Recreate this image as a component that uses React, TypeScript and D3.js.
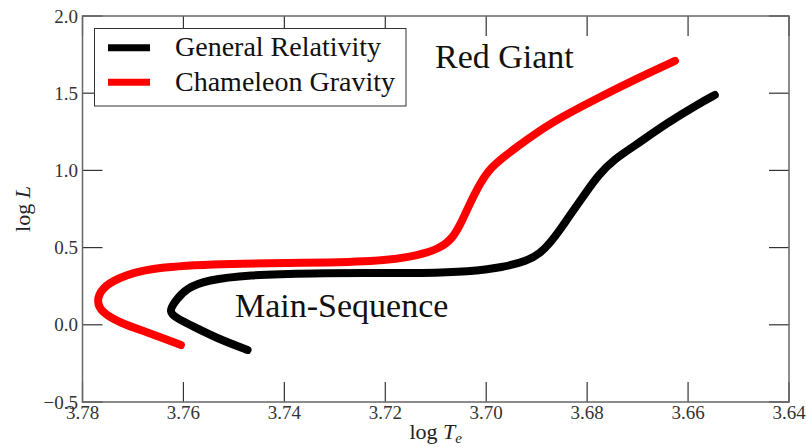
import { useEffect, useRef } from "react";
import * as d3 from "d3";

// log Te, log L
const grTe = [3.7473, 3.7534, 3.7580, 3.7613, 3.7630, 3.7615, 3.7593, 3.7553, 3.7474, 3.7343, 3.7210, 3.7131, 3.7032, 3.6967, 3.6919, 3.6893, 3.6874, 3.6854, 3.6834, 3.6808, 3.6777, 3.6745, 3.6709, 3.6642, 3.6576, 3.6547];
const grL = [-0.163, -0.087, -0.012, 0.042, 0.083, 0.161, 0.238, 0.290, 0.323, 0.335, 0.335, 0.334, 0.344, 0.372, 0.413, 0.463, 0.528, 0.614, 0.711, 0.830, 0.975, 1.075, 1.152, 1.307, 1.437, 1.488];

const chTe = [3.7605, 3.7666, 3.7726, 3.7760, 3.7773, 3.7762, 3.7730, 3.7672, 3.7541, 3.7409, 3.7210, 3.7131, 3.7092, 3.7066, 3.7048, 3.7032, 3.7018, 3.6993, 3.6939, 3.6874, 3.6775, 3.6695, 3.6626];
const chL = [-0.131, -0.055, 0.012, 0.076, 0.148, 0.238, 0.303, 0.368, 0.394, 0.400, 0.407, 0.452, 0.495, 0.560, 0.672, 0.787, 0.880, 1.022, 1.152, 1.307, 1.475, 1.605, 1.709];

const xTicks = [3.78, 3.76, 3.74, 3.72, 3.70, 3.68, 3.66, 3.64];
const yTicks = [-0.5, 0.0, 0.5, 1.0, 1.5, 2.0];

const seriesNames = ["General Relativity", "Chameleon Gravity"];
const seriesColors = ["#000000", "#ff0000"];

const SERIF = "'Liberation Serif', 'Times New Roman', serif";

export default function App() {
  const ref = useRef<SVGSVGElement>(null);

  useEffect(() => {
    document.body.style.margin = "0";
    if (!ref.current) return;
    const W = 806, H = 447;
    const L = 82.5, R = 789, T = 16, B = 402;
    const svg = d3.select(ref.current).attr("width", W).attr("height", H);
    svg.selectAll("*").remove();
    svg.append("rect").attr("width", W).attr("height", H).attr("fill", "white");

    const x = d3.scaleLinear().domain([3.78, 3.64]).range([L, R]);
    const y = d3.scaleLinear().domain([-0.5, 2.0]).range([B, T]);
    const TL = 20;

    // ticks (inward on all sides)
    const tk = svg.append("g").attr("stroke", "#333").attr("stroke-width", 1.2);
    xTicks.forEach(v => {
      tk.append("line").attr("x1", x(v)).attr("x2", x(v)).attr("y1", B).attr("y2", B - TL);
      tk.append("line").attr("x1", x(v)).attr("x2", x(v)).attr("y1", T).attr("y2", T + TL);
    });
    yTicks.forEach(v => {
      tk.append("line").attr("x1", L).attr("x2", L + TL).attr("y1", y(v)).attr("y2", y(v));
      tk.append("line").attr("x1", R).attr("x2", R - TL).attr("y1", y(v)).attr("y2", y(v));
    });

    // frame
    svg.append("rect").attr("x", L).attr("y", T).attr("width", R - L).attr("height", B - T)
      .attr("fill", "none").attr("stroke", "#666").attr("stroke-width", 1.5);

    // tick labels
    xTicks.forEach(v => {
      svg.append("text").attr("x", x(v)).attr("y", 418.5).attr("text-anchor", "middle")
        .attr("font-family", SERIF).attr("font-size", 19).attr("fill", "#333")
        .text(v.toFixed(2));
    });
    yTicks.forEach(v => {
      svg.append("text").attr("x", 78).attr("y", y(v) + 6.5).attr("text-anchor", "end")
        .attr("font-family", SERIF).attr("font-size", 19).attr("fill", "#333")
        .text(v < 0 ? "\u2212" + Math.abs(v).toFixed(1) : v.toFixed(1));
    });

    // curves
    const line = d3.line<[number, number]>()
      .x(d => x(d[0])).y(d => y(d[1]))
      .curve(d3.curveBasis);
    const series: [number, number][][] = [
      grTe.map((t, i) => [t, grL[i]]),
      chTe.map((t, i) => [t, chL[i]]),
    ];
    series.forEach((pts, i) => {
      svg.append("path").attr("d", line(pts)!).attr("fill", "none")
        .attr("stroke", seriesColors[i]).attr("stroke-width", 8)
        .attr("stroke-linecap", "round").attr("stroke-linejoin", "round");
    });

    // annotations
    svg.append("text").attr("x", 435).attr("y", 68).attr("font-family", SERIF)
      .attr("font-size", 34).attr("fill", "#111").text("Red Giant");
    svg.append("text").attr("x", 235).attr("y", 317).attr("font-family", SERIF)
      .attr("font-size", 34).attr("fill", "#111").text("Main-Sequence");

    // legend
    const lg = svg.append("g");
    lg.append("rect").attr("x", 94.5).attr("y", 28.5).attr("width", 311.5).attr("height", 77.5)
      .attr("fill", "white").attr("stroke", "#333").attr("stroke-width", 1);
    seriesNames.forEach((n, i) => {
      const yy = 47.7 + i * 34.6;
      lg.append("line").attr("x1", 108).attr("x2", 150).attr("y1", yy).attr("y2", yy)
        .attr("stroke", seriesColors[i]).attr("stroke-width", 7);
      lg.append("text").attr("x", 175).attr("y", yy + 8.5).attr("font-family", SERIF)
        .attr("font-size", 28).attr("fill", "#111").text(n);
    });

    // axis labels
    const xl = svg.append("text").attr("x", 435.7).attr("y", 439).attr("text-anchor", "middle")
      .attr("font-family", SERIF).attr("font-size", 22).attr("fill", "#222");
    xl.append("tspan").text("log ");
    xl.append("tspan").attr("font-style", "italic").text("T");
    xl.append("tspan").attr("font-style", "italic").attr("font-size", 15).attr("dy", 4).text("e");

    const yl = svg.append("text").attr("transform", `translate(30,${(T + B) / 2}) rotate(-90)`)
      .attr("text-anchor", "middle").attr("font-family", SERIF).attr("font-size", 22).attr("fill", "#222");
    yl.append("tspan").text("log ");
    yl.append("tspan").attr("font-style", "italic").text("L");
  }, []);

  return (
    <div>
      <svg ref={ref} style={{ display: "block" }} />
    </div>
  );
}
